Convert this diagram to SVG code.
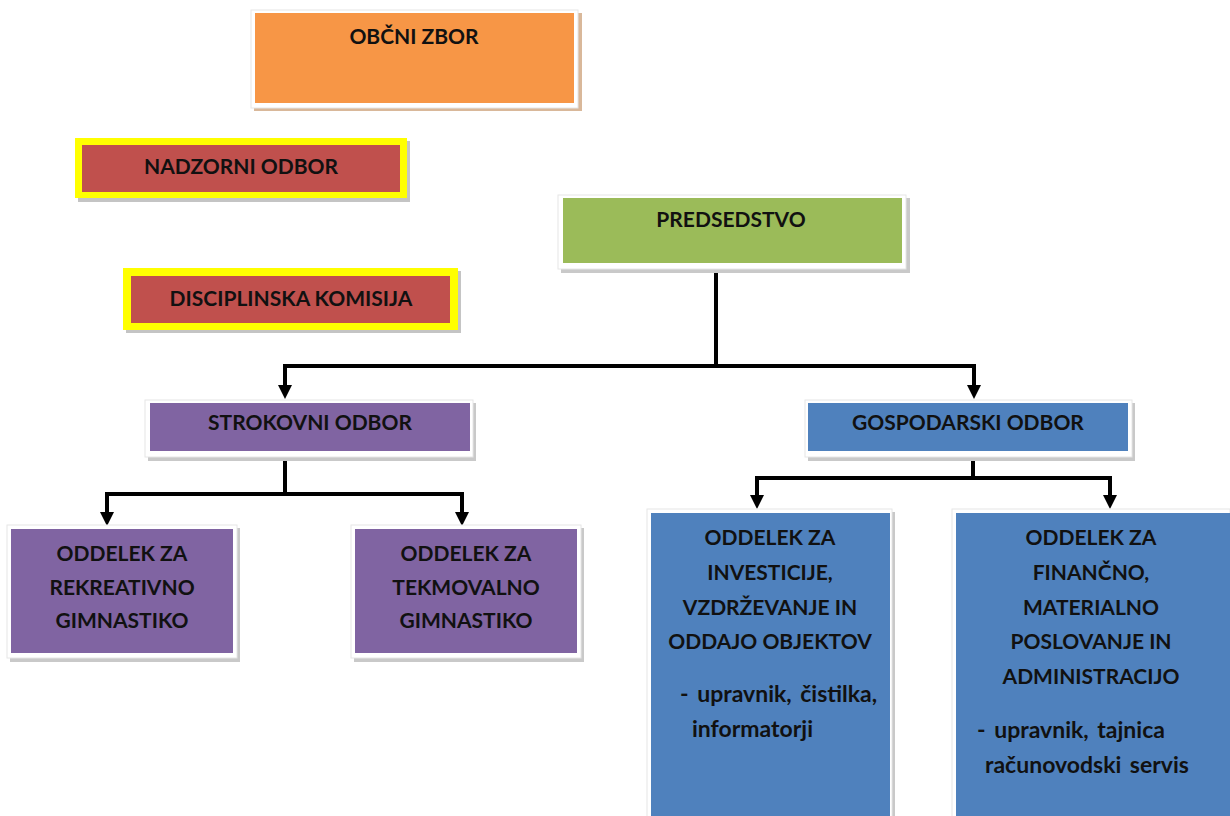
<svg xmlns="http://www.w3.org/2000/svg" width="1230" height="816" viewBox="0 0 1230 816">
  <defs>
    <style>
      .t { font-family: Lato, "Open Sans", "Liberation Sans", sans-serif; font-weight: bold; font-size: 21px; fill: #111; text-anchor: middle; }
      .l { text-anchor: start; font-size: 23px; word-spacing: 3px; }
      .shadow { fill: #c9c9c9; }
      .frame { fill: #ffffff; stroke: #e6e6e6; stroke-width: 1; }
      .wire { fill: none; stroke: #000; stroke-width: 4; }
      .head { fill: #000; }
    </style>
  </defs>
  <rect width="1230" height="816" fill="#ffffff"/>

  <!-- connectors -->
  <g id="connectors">
    <path class="wire" d="M716,265 V366"/>
    <path class="wire" d="M716,366 H285 V387"/>
    <path class="wire" d="M716,366 H974 V387"/>
    <path class="head" d="M278,385 L292,385 L285,399 Z"/>
    <path class="head" d="M967,385 L981,385 L974,399 Z"/>

    <path class="wire" d="M285,453 V494"/>
    <path class="wire" d="M285,494 H107 V514"/>
    <path class="wire" d="M285,494 H462 V514"/>
    <path class="head" d="M100,512 L114,512 L107,526 Z"/>
    <path class="head" d="M455,512 L469,512 L462,526 Z"/>

    <path class="wire" d="M973,453 V478"/>
    <path class="wire" d="M973,478 H757 V497"/>
    <path class="wire" d="M973,478 H1110 V497"/>
    <path class="head" d="M750,495 L764,495 L757,509 Z"/>
    <path class="head" d="M1103,495 L1117,495 L1110,509 Z"/>
  </g>

  <!-- OBČNI ZBOR -->
  <g id="obcni-zbor">
    <rect x="254" y="13" width="328" height="98" fill="#d9b89a"/>
    <rect class="frame" x="251" y="10" width="327" height="98"/>
    <rect x="255" y="13" width="319" height="90" fill="#F79646"/>
    <text class="t" x="414" y="44">OBČNI ZBOR</text>
  </g>

  <!-- NADZORNI ODBOR -->
  <g id="nadzorni-odbor">
    <rect x="78" y="141" width="332" height="61" fill="#c4c4c4"/>
    <rect x="75" y="138" width="332" height="60" fill="#FFFF00"/>
    <rect x="82" y="145" width="318" height="47" fill="#C0504D"/>
    <text class="t" x="241" y="174">NADZORNI ODBOR</text>
  </g>

  <!-- DISCIPLINSKA KOMISIJA -->
  <g id="disciplinska-komisija">
    <rect x="126" y="271" width="335" height="62" fill="#c4c4c4"/>
    <rect x="123" y="268" width="335" height="62" fill="#FFFF00"/>
    <rect x="131" y="276" width="319" height="47" fill="#C0504D"/>
    <text class="t" x="291" y="306">DISCIPLINSKA KOMISIJA</text>
  </g>

  <!-- PREDSEDSTVO -->
  <g id="predsedstvo">
    <rect class="shadow" x="561" y="198" width="349" height="75"/>
    <rect class="frame" x="558" y="195" width="348" height="74"/>
    <rect x="563" y="198" width="339" height="65" fill="#9BBB59"/>
    <text class="t" x="731" y="227">PREDSEDSTVO</text>
  </g>

  <!-- STROKOVNI ODBOR -->
  <g id="strokovni-odbor">
    <rect class="shadow" x="148" y="403" width="328" height="58"/>
    <rect class="frame" x="145" y="400" width="328" height="57"/>
    <rect x="150" y="403" width="320" height="48" fill="#8064A2"/>
    <text class="t" x="310" y="430">STROKOVNI ODBOR</text>
  </g>

  <!-- GOSPODARSKI ODBOR -->
  <g id="gospodarski-odbor">
    <rect class="shadow" x="808" y="403" width="327" height="58"/>
    <rect class="frame" x="805" y="400" width="327" height="57"/>
    <rect x="808" y="403" width="320" height="48" fill="#4F81BD"/>
    <text class="t" x="968" y="430">GOSPODARSKI ODBOR</text>
  </g>

  <!-- ODDELEK ZA REKREATIVNO GIMNASTIKO -->
  <g id="rekreativna">
    <rect class="shadow" x="10" y="528" width="230" height="134"/>
    <rect class="frame" x="7" y="525" width="230" height="133"/>
    <rect x="11" y="529" width="222" height="124" fill="#8064A2"/>
    <text class="t" x="122" y="561">ODDELEK ZA</text>
    <text class="t" x="122" y="595">REKREATIVNO</text>
    <text class="t" x="122" y="628">GIMNASTIKO</text>
  </g>

  <!-- ODDELEK ZA TEKMOVALNO GIMNASTIKO -->
  <g id="tekmovalna">
    <rect class="shadow" x="354" y="528" width="230" height="134"/>
    <rect class="frame" x="351" y="525" width="230" height="133"/>
    <rect x="355" y="529" width="222" height="124" fill="#8064A2"/>
    <text class="t" x="466" y="561">ODDELEK ZA</text>
    <text class="t" x="466" y="595">TEKMOVALNO</text>
    <text class="t" x="466" y="628">GIMNASTIKO</text>
  </g>

  <!-- ODDELEK ZA INVESTICIJE -->
  <g id="investicije">
    <rect class="shadow" x="650" y="512" width="245" height="310"/>
    <rect class="frame" x="647" y="509" width="245" height="310"/>
    <rect x="651" y="513" width="239" height="306" fill="#4F81BD"/>
    <text class="t" x="770" y="545">ODDELEK ZA</text>
    <text class="t" x="770" y="580">INVESTICIJE,</text>
    <text class="t" x="770" y="615">VZDRŽEVANJE IN</text>
    <text class="t" x="770" y="649">ODDAJO OBJEKTOV</text>
    <text class="t l" x="680" y="702">- upravnik, čistilka,</text>
    <text class="t l" x="692" y="737">informatorji</text>
  </g>

  <!-- ODDELEK ZA FINANČNO POSLOVANJE -->
  <g id="financno">
    <rect class="shadow" x="955" y="512" width="280" height="310"/>
    <rect class="frame" x="952" y="509" width="278" height="310"/>
    <rect x="956" y="513" width="274" height="306" fill="#4F81BD"/>
    <text class="t" x="1091" y="545">ODDELEK ZA</text>
    <text class="t" x="1091" y="580">FINANČNO,</text>
    <text class="t" x="1091" y="615">MATERIALNO</text>
    <text class="t" x="1091" y="649">POSLOVANJE IN</text>
    <text class="t" x="1091" y="684">ADMINISTRACIJO</text>
    <text class="t l" x="977" y="738">- upravnik, tajnica</text>
    <text class="t l" x="985" y="773">računovodski servis</text>
  </g>
</svg>
